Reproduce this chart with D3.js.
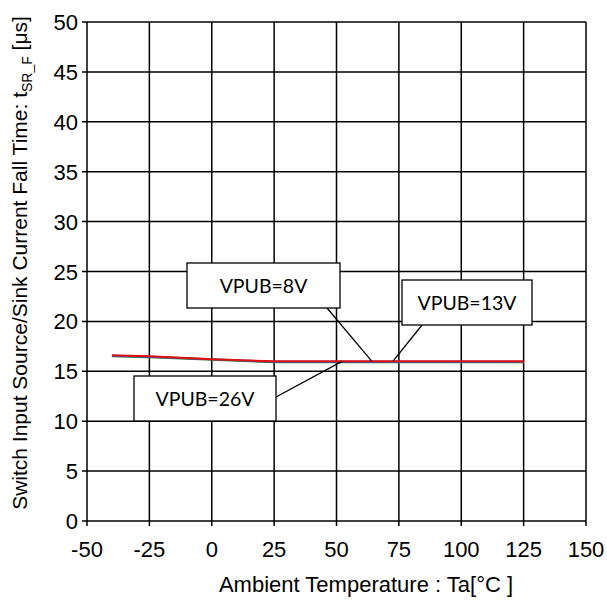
<!DOCTYPE html>
<html><head><meta charset="utf-8">
<script src="https://cdn.jsdelivr.net/npm/d3@7"></script>
<style>body{margin:0;background:#fff}svg{display:block}</style>
</head><body>
<svg id="c" width="607" height="601"></svg>
<script>
const temps = [-40, -25, 0, 25, 50, 75, 100, 125];
const vpub8 = [16.6, 16.5, 16.2, 16.0, 16.0, 16.0, 16.0, 16.0];
const vpub13 = [16.5, 16.4, 16.15, 15.9, 15.9, 15.9, 15.9, 15.9];
const vpub26 = [16.55, 16.45, 16.2, 15.95, 15.95, 15.95, 15.95, 15.95];
const xTicks = [-50, -25, 0, 25, 50, 75, 100, 125, 150];
const yTicks = [0, 5, 10, 15, 20, 25, 30, 35, 40, 45, 50];
const seriesNames = ["VPUB=8V", "VPUB=13V", "VPUB=26V"];

const svg = d3.select("#c");
const x = d3.scaleLinear().domain([-50, 150]).range([87, 586]);
const y = d3.scaleLinear().domain([0, 50]).range([521, 22]);
const font = "'Liberation Sans', Arial, sans-serif";

// grid
const g = svg.append("g");
g.selectAll(".vx").data(xTicks).enter().append("line")
  .attr("x1", d => x(d)).attr("x2", d => x(d)).attr("y1", y(50)).attr("y2", y(0) + 5)
  .attr("stroke", "#000").attr("stroke-width", 1.5);
g.selectAll(".hy").data(yTicks).enter().append("line")
  .attr("x1", x(-50) - 5).attr("x2", x(150)).attr("y1", d => y(d)).attr("y2", d => y(d))
  .attr("stroke", "#000").attr("stroke-width", 1.5);

// tick labels
svg.selectAll(".xl").data(xTicks).enter().append("text")
  .attr("x", d => x(d)).attr("y", 557).attr("text-anchor", "middle")
  .attr("font-family", font).attr("font-size", 22).text(d => d);
svg.selectAll(".yl").data(yTicks).enter().append("text")
  .attr("x", 78).attr("y", d => y(d) + 8).attr("text-anchor", "end")
  .attr("font-family", font).attr("font-size", 22).text(d => d);

// titles
svg.append("text").attr("x", 366).attr("y", 592).attr("text-anchor", "middle")
  .attr("font-family", font).attr("font-size", 22).text("Ambient Temperature : Ta[\u00B0C ]");
const yt = svg.append("text").attr("transform", "translate(27,263) rotate(-90)")
  .attr("text-anchor", "middle").attr("font-family", font).attr("font-size", 21);
yt.append("tspan").text("Switch Input Source/Sink Current Fall Time: t");
yt.append("tspan").attr("font-size", 14).attr("dy", 5).text("SR_F");
yt.append("tspan").attr("dy", -5).text(" [\u03BCs]");

// lines
const line = d3.line().x((d, i) => x(temps[i])).y(d => y(d));
[[vpub13, "#2e8b2e"], [vpub26, "#3050c0"], [vpub8, "#e01010"]].forEach(([data, col]) => {
  svg.append("path").datum(data).attr("d", line).attr("fill", "none")
    .attr("stroke", col).attr("stroke-width", 2);
});

// callouts
const callouts = [
  {name: seriesNames[0], bx: 187, by: 263, bw: 153, bh: 45, lx1: 327, ly1: 308, tx: 64.2, ty: 16.0},
  {name: seriesNames[1], bx: 402, by: 280, bw: 130, bh: 45, lx1: 422, ly1: 325, tx: 72.6, ty: 16.0},
  {name: seriesNames[2], bx: 134, by: 376, bw: 142, bh: 45, lx1: 276, ly1: 397, tx: 52.2, ty: 16.0}
];
callouts.forEach(c => {
  svg.append("line").attr("x1", c.lx1).attr("y1", c.ly1).attr("x2", x(c.tx)).attr("y2", y(c.ty))
    .attr("stroke", "#000").attr("stroke-width", 1.3);
  svg.append("rect").attr("x", c.bx).attr("y", c.by).attr("width", c.bw).attr("height", c.bh)
    .attr("fill", "#fff").attr("stroke", "#000").attr("stroke-width", 1.3);
  svg.append("text").attr("x", c.bx + c.bw / 2).attr("y", c.by + c.bh / 2 + 7)
    .attr("text-anchor", "middle").attr("font-family", "Lato, 'Open Sans', sans-serif")
    .attr("font-size", 19.5).text(c.name);
});
</script>
</body></html>
